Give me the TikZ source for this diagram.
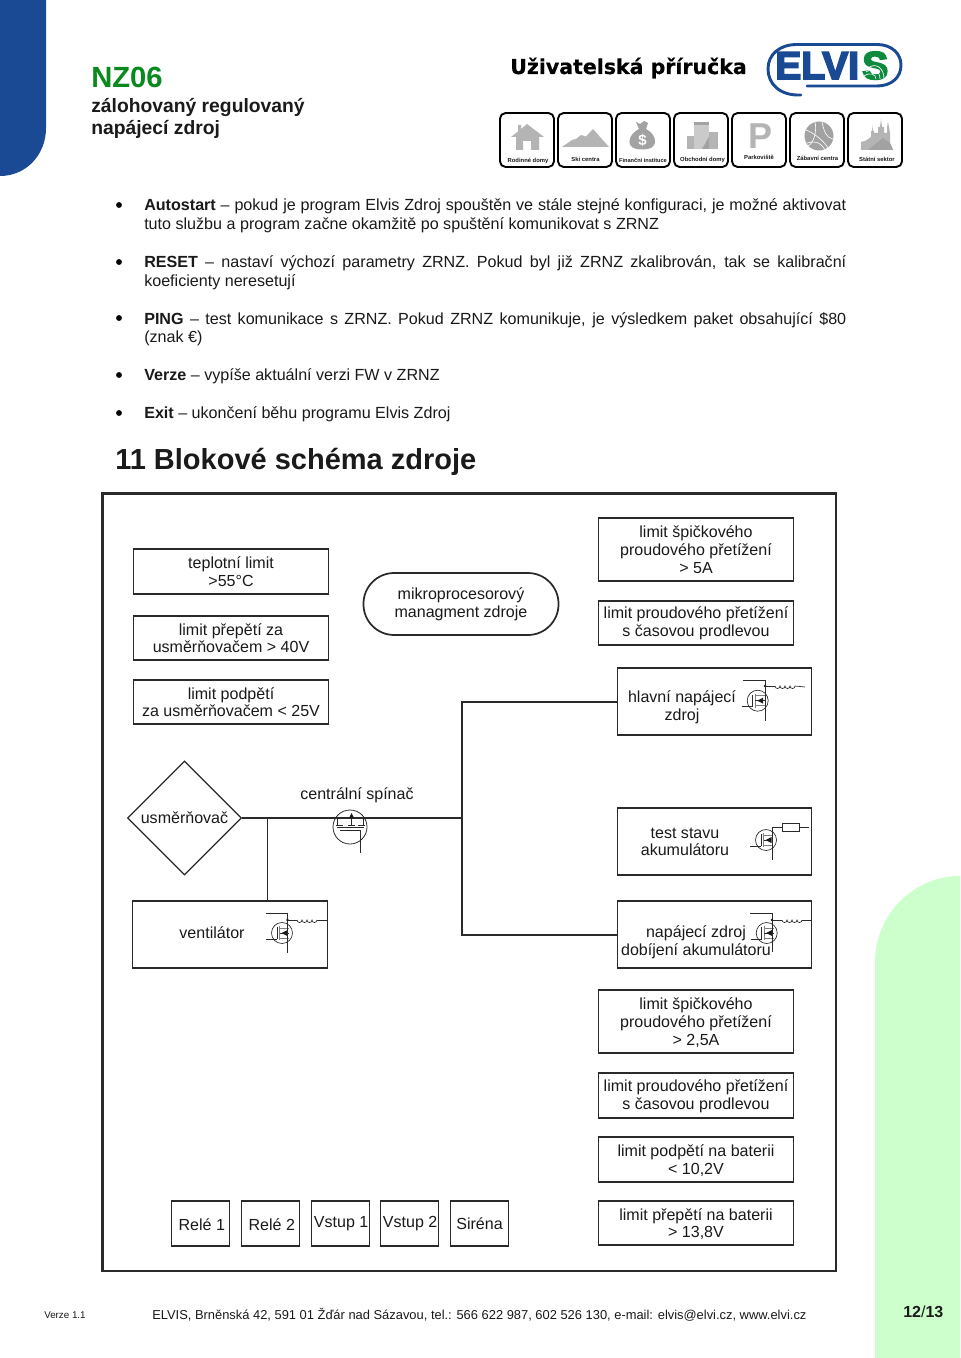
\documentclass[tikz,border=0pt]{standalone}
\usepackage{fontspec}
\setmainfont{Liberation Sans}
\newfontfamily\wideb{DejaVu Sans}[FakeBold=0.6]
\newfontfamily\logof{Liberation Sans Bold}[FakeBold=4.5]
\usetikzlibrary{shapes.geometric,arrows.meta}
\definecolor{elblue}{HTML}{1B4A94}
\definecolor{elgreen}{HTML}{0E8A3C}
\definecolor{nzgreen}{HTML}{0A8A1E}
\definecolor{pale}{HTML}{CCFFCC}
\definecolor{ink}{HTML}{1A1A1A}
\definecolor{linec}{HTML}{2A2A2A}
\definecolor{icg}{HTML}{B4B4B4}
\definecolor{icd}{HTML}{A2A2A2}
\newcommand{\pxf}[1]{\fontsize{\the\dimexpr #1pt*3/4\relax}{\the\dimexpr #1pt*7/8\relax}\selectfont}
\newcommand{\dfont}{\fontsize{12.03pt}{13.3pt}\selectfont}
\newcommand{\dnn}{\rule{0pt}{10.2pt}}
\tikzset{x=0.75pt,y=-0.75pt,
  bx/.style={draw=linec,line width=1.3pt,outer sep=0pt,inner sep=0pt,align=center,font=\dfont,text=ink},
  wire/.style={draw=linec,line width=1.3pt},
  thin wire/.style={draw=linec,line width=0.5pt},
  lbl/.style={inner sep=0pt,anchor=center,align=center,font=\dfont,text=ink},
  bodyl/.style={inner sep=0pt,anchor=base west,font=\fontsize{12.08pt}{14pt}\selectfont,text=ink},
  tile/.style={draw=black,line width=1.4pt,rounded corners=4.2pt},
  tilelab/.style={inner sep=0pt,anchor=base,font=\fontsize{4.4pt}{5pt}\selectfont\bfseries,text=ink},
  bul/.style={circle,fill=black,inner sep=0pt,minimum size=4.4pt}}
\newcommand{\Bxn}[6]{%
  \pgfmathsetmacro{\bcx}{(#2+#4)/2+0.5}\pgfmathsetmacro{\bcy}{(#3+#5)/2+0.2}%
  \pgfmathsetmacro{\bw}{(#4-#2)*0.75}\pgfmathsetmacro{\bh}{(#5-#3)*0.75}%
  \node[bx,minimum width=\bw pt,minimum height=\bh pt] (#1) at (\bcx,\bcy) {#6};}
\newcommand{\Fet}[2]{%
  \begin{scope}[shift={(#1,#2)}]
    \draw[thin wire] (0,0) circle[radius=10.5];
    \draw[thin wire,line width=0.9pt,draw=gray] (-2.5,-7) -- (-2.5,7);
    \draw[thin wire] (-5,-6) -- (-5,6);
    \draw[thin wire,draw=gray] (-2.5,-5) -- (7,-5) (-2.5,5) -- (7,5);
    \draw[thin wire] (-2.5,0) -- (1,0);
    \fill[ink] (-0.5,0) -- (5.5,-3) -- (5.5,3) -- cycle;
    \draw[thin wire] (5.5,0) -- (7,0);
    \draw[thin wire] (-16,6) -- (-5,6);
  \end{scope}}
\newcommand{\Coil}[2]{%
  \begin{scope}[shift={(#1,#2)}]
    \draw[thin wire] (0,0) arc[start angle=180,end angle=0,radius=2.5]
      arc[start angle=180,end angle=0,radius=2.5]
      arc[start angle=180,end angle=0,radius=2.5]
      arc[start angle=180,end angle=0,radius=2.5];
  \end{scope}}
\begin{document}
\begin{tikzpicture}
\useasboundingbox (0,0) rectangle (960,1358);
\fill[white] (0,0) rectangle (960,1358);
% page decoration
\fill[elblue] (0,0) -- (46,0) -- (46,128) .. controls (46,155) and (26,176) .. (0,176) -- cycle;
\fill[pale] (960,876) -- (960,1358) -- (875,1358) -- (875,962) .. controls (875,915) and (913,876) .. (960,876) -- cycle;
% header
\node[inner sep=0pt,anchor=base west,font=\pxf{29.2}\bfseries,text=nzgreen] (nz) at (91,88) {NZ06};
\node[inner sep=0pt,anchor=base west,font=\pxf{19.3}\bfseries,text=ink] (sub1) at (91,113) {zálohovaný regulovaný};
\node[inner sep=0pt,anchor=base west,font=\pxf{19.3}\bfseries,text=ink] (sub2) at (91,135) {napájecí zdroj};
\node[inner sep=0pt,anchor=base west,font=\wideb\bfseries\pxf{20.5},text=black] (ttl) at (510,74) {Uživatelská příručka};
% logo
\draw[elblue,line width=2.2pt,line cap=round] (801,95) .. controls (780,96) and (768,84) .. (768,69)
  .. controls (768,54) and (780,44.5) .. (797,44.5) -- (877,44.5)
  .. controls (892,44.5) and (901,54) .. (901,65) .. controls (901,77) and (892,86) .. (877,86) -- (807,86);
\node[inner sep=0pt,anchor=base west,font=\logof\pxf{39},text=elblue] (logoa) at (775,79) {ELVI};
\node[inner sep=0pt,anchor=base west,font=\logof\pxf{39},text=elgreen] (logob) at (862,79) {S};
\draw[white,line width=0.5pt] (868,68) .. controls (876,62) and (884,68) .. (884,79)
  (866,72) .. controls (873,67) and (880,71) .. (880,79)
  (864,76) .. controls (870,72) and (876,74) .. (876,79);
% tiles
\begin{scope}[shift={(500,113)}]
  \draw[tile] (0,0) rectangle (54,54);
  \fill[icg] (27,11) -- (44,24) -- (39,24) -- (39,37) -- (31,37) -- (31,28) -- (23,28) -- (23,37) -- (16,37) -- (16,24) -- (11,24) -- (18,18.5) -- (18,12) -- (21,12) -- (21,16) -- cycle;
  \node[tilelab] (t1) at (28,50) {Rodinné domy};
\end{scope}
\begin{scope}[shift={(558,113)}]
  \draw[tile] (0,0) rectangle (54,54);
  \fill[icg] (4,34) -- (14,27) -- (18,26) -- (23,22) -- (28,23.5) -- (35,16) -- (51,34) -- cycle;
  \node[tilelab] (t2) at (27.5,49) {Ski centra};
\end{scope}
\begin{scope}[shift={(616,113)}]
  \draw[tile] (0,0) rectangle (54,54);
  \fill[icd] (20,9) -- (24,11) -- (28,8) -- (32,10) -- (30,16) .. controls (36,19) and (39,24) .. (39,28)
    .. controls (39,35) and (33,36.5) .. (26,36.5) .. controls (19,36.5) and (13.5,35) .. (13.5,28)
    .. controls (13.5,24) and (17,19) .. (23,16) -- cycle;
  \node[inner sep=0pt,anchor=center,font=\pxf{15}\bfseries,text=white] (t3s) at (26.5,27) {\$};
  \node[tilelab,font=\fontsize{4.2pt}{5pt}\selectfont\bfseries] (t3) at (27,50) {Finanční instituce};
\end{scope}
\begin{scope}[shift={(674,113)}]
  \draw[tile] (0,0) rectangle (54,54);
  \fill[icg] (13,23) rectangle (20,36);
  \fill[icg!70!white] (20,9) rectangle (35,36);
  \fill[icd] (20,9) rectangle (35,12);
  \fill[icd] (28,36) -- (35,24) -- (35,36) -- cycle;
  \fill[icg] (35,19) rectangle (44,36);
  \node[tilelab] (t4) at (28.5,49) {Obchodní domy};
\end{scope}
\begin{scope}[shift={(732,113)}]
  \draw[tile] (0,0) rectangle (54,54);
  \node[inner sep=0pt,anchor=base,font=\pxf{36}\bfseries,text=icg] (t5p) at (28,36) {P};
  \node[tilelab] (t5) at (27,47) {Parkoviště};
\end{scope}
\begin{scope}[shift={(790,113)}]
  \draw[tile] (0,0) rectangle (54,54);
  \fill[icd] (29,23) circle[radius=14.5];
  \draw[white,line width=0.45pt] (16,17) .. controls (24,20) and (34,28) .. (38,35)
     (25,9) .. controls (27,18) and (24,30) .. (18,33)
     (32,9) .. controls (34,18) and (36,25) .. (43,26)
     (17,30) .. controls (23,28) and (30,28) .. (35,37);
  \node[tilelab] (t6) at (27.5,48) {Zábavní centra};
\end{scope}
\begin{scope}[shift={(848,113)}]
  \draw[tile] (0,0) rectangle (54,54);
  \fill[icg] (13,37) -- (13,29) -- (17,28) -- (20,26) -- (23,24) -- (23,18) -- (24,18) -- (24,12) -- (25,18) -- (26,18) -- (26,20) -- (30,20) -- (30,14) -- (32,14) -- (33,6) -- (34,14) -- (36,14) -- (36,20) -- (39,20) -- (39,14) -- (40,9) -- (41,14) -- (42,20) -- (42,30) -- (45,37) -- cycle;
  \fill[icd] (20,37) -- (35,25) -- (42,30) -- (45,37) -- cycle;
  \node[tilelab] (t7) at (29,48.5) {Státní sektor};
\end{scope}
% body text
\node[bul] (b1) at (119,205) {};
\node[bodyl] (l1) at (144,211) {\makebox[526.5pt][s]{\textbf{Autostart} – pokud je program Elvis Zdroj spouštěn ve stále stejné konfiguraci, je možné aktivovat}};
\node[bodyl] (l2) at (144,229.5) {tuto službu a program začne okamžitě po spuštění komunikovat s ZRNZ};
\node[bul] (b2) at (119,262) {};
\node[bodyl] (l3) at (144,267.5) {\makebox[526.5pt][s]{\textbf{RESET} – nastaví výchozí parametry ZRNZ. Pokud byl již ZRNZ zkalibrován, tak se kalibrační}};
\node[bodyl] (l4) at (144,286.5) {koeficienty neresetují};
\node[bul] (b3) at (119,318) {};
\node[bodyl] (l5) at (144,324.5) {\makebox[526.5pt][s]{\textbf{PING} – test komunikace s ZRNZ. Pokud ZRNZ komunikuje, je výsledkem paket obsahující \$80}};
\node[bul] (b4) at (119,375) {};
\node[bodyl] (l6) at (144,343) {(znak €)};
\node[bodyl] (l7) at (144,380) {\textbf{Verze} – vypíše aktuální verzi FW v ZRNZ};
\node[bul] (b5) at (119,413) {};
\node[bodyl] (l8) at (144,418) {\textbf{Exit} – ukončení běhu programu Elvis Zdroj};
\node[inner sep=0pt,anchor=base west,font=\pxf{29}\bfseries,text=ink] (hd) at (115,469) {11 Blokové schéma zdroje};
% frame
\draw[linec,line width=1.8pt] (102.5,493.5) rectangle (836,1271);
% boxes
\Bxn{a1}{133}{549}{328}{594}{teplotní limit\\>55°C}
\Bxn{a2}{133}{616}{328}{660}{limit přepětí za\\usměrňovačem > 40V}
\Bxn{a3}{133}{680}{328}{724}{limit podpětí\\za usměrňovačem < 25V}
\node[bx,rounded corners=23pt,minimum width=146.25pt,minimum height=46.5pt] (mk) at (461,604) {mikroprocesorový\\managment zdroje};
\Bxn{c1}{598}{518}{793}{581}{limit špičkového\\proudového přetížení\\> 5A}
\Bxn{c2}{598}{601}{793}{645}{limit proudového přetížení\\s časovou prodlevou}
\Bxn{hl}{617}{668}{811}{735}{}
\Bxn{ts}{617}{808}{811}{875}{}
\Bxn{np}{617}{901}{811}{968}{}
\Bxn{vt}{132}{901}{327}{968}{}
\node[draw=linec,line width=0.85pt,diamond,aspect=1,inner sep=0pt,minimum size=85.5pt,font=\dfont,text=ink] (us) at (184.5,818) {usměrňovač};
\node[lbl] (hlt) at (682,707) {hlavní napájecí\\zdroj};
\node[lbl] (tst) at (685,842) {test stavu\\akumulátoru};
\node[lbl] (npt) at (696,942) {napájecí zdroj\\dobíjení akumulátoru};
\node[lbl] (vtt) at (212,933) {ventilátor};
\node[lbl] (cs) at (357,795) {centrální spínač};
\Bxn{d1}{598}{990}{793}{1053}{\dnn limit špičkového\\proudového přetížení\\> 2,5A}
\Bxn{d2}{598}{1073}{793}{1118}{\dnn limit proudového přetížení\\s časovou prodlevou}
\Bxn{d3}{598}{1137}{793}{1182}{\dnn limit podpětí na baterii\\< 10,2V}
\Bxn{d4}{598}{1201}{793}{1245}{\dnn limit přepětí na baterii\\> 13,8V}
\Bxn{e1}{171}{1201}{229}{1246}{\dnn\hspace*{2pt}Relé 1}
\Bxn{e2}{241}{1201}{299}{1246}{\dnn\hspace*{2pt}Relé 2}
\Bxn{e3}{311}{1201}{369}{1246}{\hspace*{1pt}Vstup 1}
\Bxn{e4}{380}{1201}{438}{1246}{\hspace*{1pt}Vstup 2}
\Bxn{e5}{450}{1201}{508}{1246}{Siréna}
% connectors
\coordinate (j1) at (267.5,818);
\coordinate (tr) at (462,818);
\draw[wire] (us.east) -- (tr);
\draw[wire] (j1) -- (j1 |- vt.north);
\draw[wire] (tr) |- (hl.west);
\draw[wire] (tr) |- (np.west);
% central switch symbol
\begin{scope}[shift={(350,827)}]
  \draw[thin wire,line width=0.6pt] (0,0) circle[radius=17];
  \draw[thin wire,line width=0.6pt] (-13,-10) -- (-13,-2) (-14,-2) -- (-7,-2)
     (13,-10) -- (13,-2) (8,-2) -- (15,-2) (1.5,-2) -- (1.5,-12) (-2,-2) -- (5,-2);
  \fill[ink] (1.5,-14) -- (4,-9) -- (-1,-9) -- cycle;
  \draw[thin wire,line width=0.7pt] (-13,0.5) -- (14,0.5);
  \draw[thin wire,line width=0.6pt] (-10,3.5) -- (10,3.5) -- (10,26);
\end{scope}
% FET: main supply
\Fet{757.7}{700.7}
\draw[thin wire] (743,680.7) -- (765,680.7) -- (765,720.7);
\fill[ink] (765,686) circle[radius=1.4];
\draw[thin wire] (765,686) -- (775,686); \Coil{775}{686}
\draw[thin wire] (795,686) -- (805,687);
% FET: test
\Fet{766}{840}
\draw[thin wire] (772,860) -- (772,827) -- (782,827);
\draw[thin wire,fill=white] (782,823) rectangle (799,831);
\draw[thin wire] (799,827) -- (809,827);
% FET: charging
\Fet{766.7}{933}
\draw[thin wire] (750,913) -- (772,913) -- (772,952);
\fill[ink] (772,920) circle[radius=1.4];
\draw[thin wire] (772,920) -- (782,920); \Coil{782}{920}
\draw[thin wire] (802,920) -- (811,920);
% FET: fan
\Fet{282}{933}
\draw[thin wire] (266,913) -- (287.5,913) -- (287.5,953);
\fill[ink] (287.5,920) circle[radius=1.4];
\draw[thin wire] (287.5,920) -- (297,920); \Coil{297}{920}
\draw[thin wire] (317,920) -- (327,920);
% footer
\node[inner sep=0pt,anchor=base west,font=\pxf{9.8},text=ink] (fv) at (44,1318) {Verze 1.1};
\node[inner sep=0pt,anchor=base west,font=\pxf{12.9},text=ink] (ft) at (152,1319) {ELVIS, Brněnská 42, 591 01 Žďár nad Sázavou, tel.: 566 622 987, 602 526 130, e-mail: elvis@elvi.cz, www.elvi.cz};
\node[inner sep=0pt,anchor=base west,font=\pxf{16},text=ink] (pg) at (903,1317) {\textbf{12}/\textbf{13}};
\end{tikzpicture}
\end{document}
